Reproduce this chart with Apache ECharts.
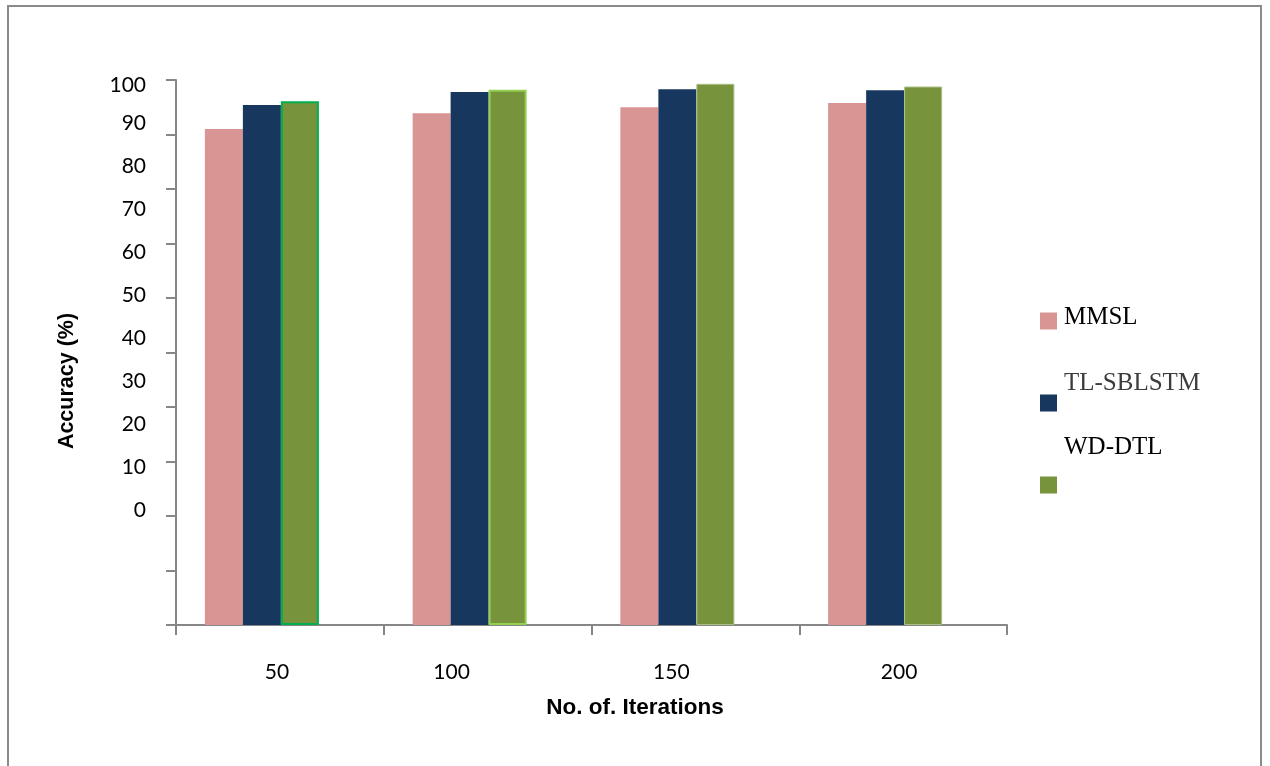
<!DOCTYPE html>
<html>
<head>
<meta charset="utf-8">
<title>Accuracy vs. No. of. Iterations</title>
<script src="https://cdn.jsdelivr.net/npm/echarts@6/dist/echarts.min.js"></script>
<style>
  html, body { margin: 0; padding: 0; background: #ffffff; }
  #chart { width: 1270px; height: 766px; }
</style>
</head>
<body>
<div id="chart"></div>
<script>
// Iteration counts on the x axis
const categories = ['50', '100', '150', '200'];

// Series names
const seriesNames = ['MMSL', 'TL-SBLSTM', 'WD-DTL'];

// Accuracy (%) per iteration count
const mmslValues = [91.0, 93.9, 95.0, 95.8];
const tlSblstmValues = [95.4, 97.8, 98.3, 98.1];
const wdDtlValues = [96.1, 98.2, 99.3, 98.8];

// Y tick labels
const yTickLabels = [0, 10, 20, 30, 40, 50, 60, 70, 80, 90, 100];

const colors = ['#D99594', '#17375E', '#77933C'];
const axisGray = '#878787';
const labelFont = 'Lato, "Open Sans", sans-serif';
const titleFont = '"Liberation Sans", Arial, sans-serif';
const legendFont = '"Liberation Serif", "Times New Roman", serif';

// outline drawn on each WD-DTL bar
const wdOutlines = [
  { borderColor: '#00B050', borderWidth: 2 },
  { borderColor: '#92D050', borderWidth: 2 },
  { borderColor: '#A9BF83', borderWidth: 1 },
  { borderColor: '#A9BF83', borderWidth: 1 }
];

// horizontal nudges of the category labels
const xLabelPad = [6, 72, 48, 8];
const xRich = {};
xLabelPad.forEach(function (p, i) {
  xRich['c' + i] = {
    fontFamily: labelFont, fontSize: 21, color: '#000',
    padding: [0, p, 0, 0]
  };
});

const chart = echarts.init(document.getElementById('chart'), null, { renderer: 'canvas' });

// one legend block per series; the name sits above its swatch by padBottom / 2
function legendBlock(name, top, padBottom, color) {
  return {
    data: [name],
    orient: 'vertical',
    left: 1040,
    top: top,
    padding: 0,
    itemWidth: 17,
    itemHeight: 17,
    icon: 'rect',
    selectedMode: false,
    formatter: function (n) { return '{t|' + n + '}'; },
    textStyle: {
      fontFamily: legendFont,
      fontSize: 25,
      color: color,
      rich: {
        t: {
          fontFamily: legendFont,
          fontSize: 25,
          lineHeight: 26,
          color: color,
          padding: [0, 0, padBottom, 2]
        }
      }
    }
  };
}

const option = {
  backgroundColor: '#ffffff',
  animation: false,
  graphic: [{
    type: 'rect',
    shape: { x: 8, y: 6, width: 1253, height: 820 },
    style: { fill: 'none', stroke: '#8a8a8a', lineWidth: 2 },
    silent: true,
    z: -10
  }],
  grid: [
    { left: 176, right: 263, top: 80, bottom: 141, outerBoundsMode: 'none' },
    { left: 158, right: 281, top: 80, bottom: 141, outerBoundsMode: 'none' }
  ],
  legend: [
    legendBlock(seriesNames[0], 304.5, 8, '#000'),
    legendBlock(seriesNames[1], 371, 39, '#3c3c3c'),
    legendBlock(seriesNames[2], 435, 75, '#000')
  ],
  xAxis: [
    {
      type: 'category',
      gridIndex: 0,
      data: categories,
      boundaryGap: true,
      axisLine: { show: true, lineStyle: { color: axisGray, width: 2 } },
      axisTick: { show: true, length: 10, alignWithLabel: false, lineStyle: { color: axisGray, width: 2 } },
      axisLabel: {
        margin: 37,
        formatter: function (value, index) { return '{c' + index + '|' + value + '}'; },
        rich: xRich
      },
      splitLine: { show: false },
      name: 'No. of. Iterations',
      nameLocation: 'middle',
      nameGap: 71,
      nameTextStyle: {
        fontFamily: titleFont, fontSize: 22.5, fontWeight: 'bold', color: '#000',
        padding: [0, 0, 0, 87]
      }
    },
    {
      type: 'category',
      gridIndex: 1,
      data: categories,
      boundaryGap: true,
      show: false
    }
  ],
  yAxis: [
    {
      type: 'value',
      gridIndex: 0,
      min: 0,
      max: 100,
      interval: 10,
      axisLine: { show: true, lineStyle: { color: axisGray, width: 2 } },
      axisTick: { show: true, length: 10, lineStyle: { color: axisGray, width: 2 } },
      axisLabel: { show: false },
      splitLine: { show: false },
      name: 'Accuracy (%)',
      nameLocation: 'middle',
      nameRotate: 90,
      nameGap: 98,
      nameTextStyle: {
        fontFamily: titleFont, fontSize: 21.5, fontWeight: 'bold', color: '#000',
        padding: [0, 57, 0, 0]
      }
    },
    {
      // tick label column, spaced on its own scale
      type: 'value',
      gridIndex: 0,
      position: 'left',
      min: -26.7,
      max: 100,
      axisLine: { show: false },
      axisTick: { show: false },
      splitLine: { show: false },
      axisLabel: {
        margin: 30,
        customValues: yTickLabels,
        fontFamily: labelFont,
        fontSize: 21,
        color: '#000',
        formatter: function (v) {
          return v === 100 ? '{top|' + v + '}' : '{n|' + v + '}';
        },
        rich: {
          n: { fontFamily: labelFont, fontSize: 21, color: '#000' },
          top: { fontFamily: labelFont, fontSize: 21, color: '#000', padding: [10, 0, 0, 0] }
        }
      }
    },
    {
      type: 'value',
      gridIndex: 1,
      min: 0,
      max: 100,
      show: false
    }
  ],
  series: [
    {
      name: seriesNames[0],
      type: 'bar',
      xAxisIndex: 1,
      yAxisIndex: 2,
      data: mmslValues,
      barWidth: 38,
      barGap: '0%',
      itemStyle: { color: colors[0] }
    },
    {
      name: seriesNames[1],
      type: 'bar',
      xAxisIndex: 1,
      yAxisIndex: 2,
      data: tlSblstmValues,
      barWidth: 38,
      barGap: '0%',
      itemStyle: { color: colors[1] }
    },
    {
      name: seriesNames[2],
      type: 'bar',
      xAxisIndex: 1,
      yAxisIndex: 2,
      data: wdDtlValues.map(function (v, i) {
        return { value: v, itemStyle: wdOutlines[i] };
      }),
      barWidth: 38,
      barGap: '0%',
      itemStyle: { color: colors[2] }
    }
  ]
};

chart.setOption(option);
</script>
</body>
</html>
